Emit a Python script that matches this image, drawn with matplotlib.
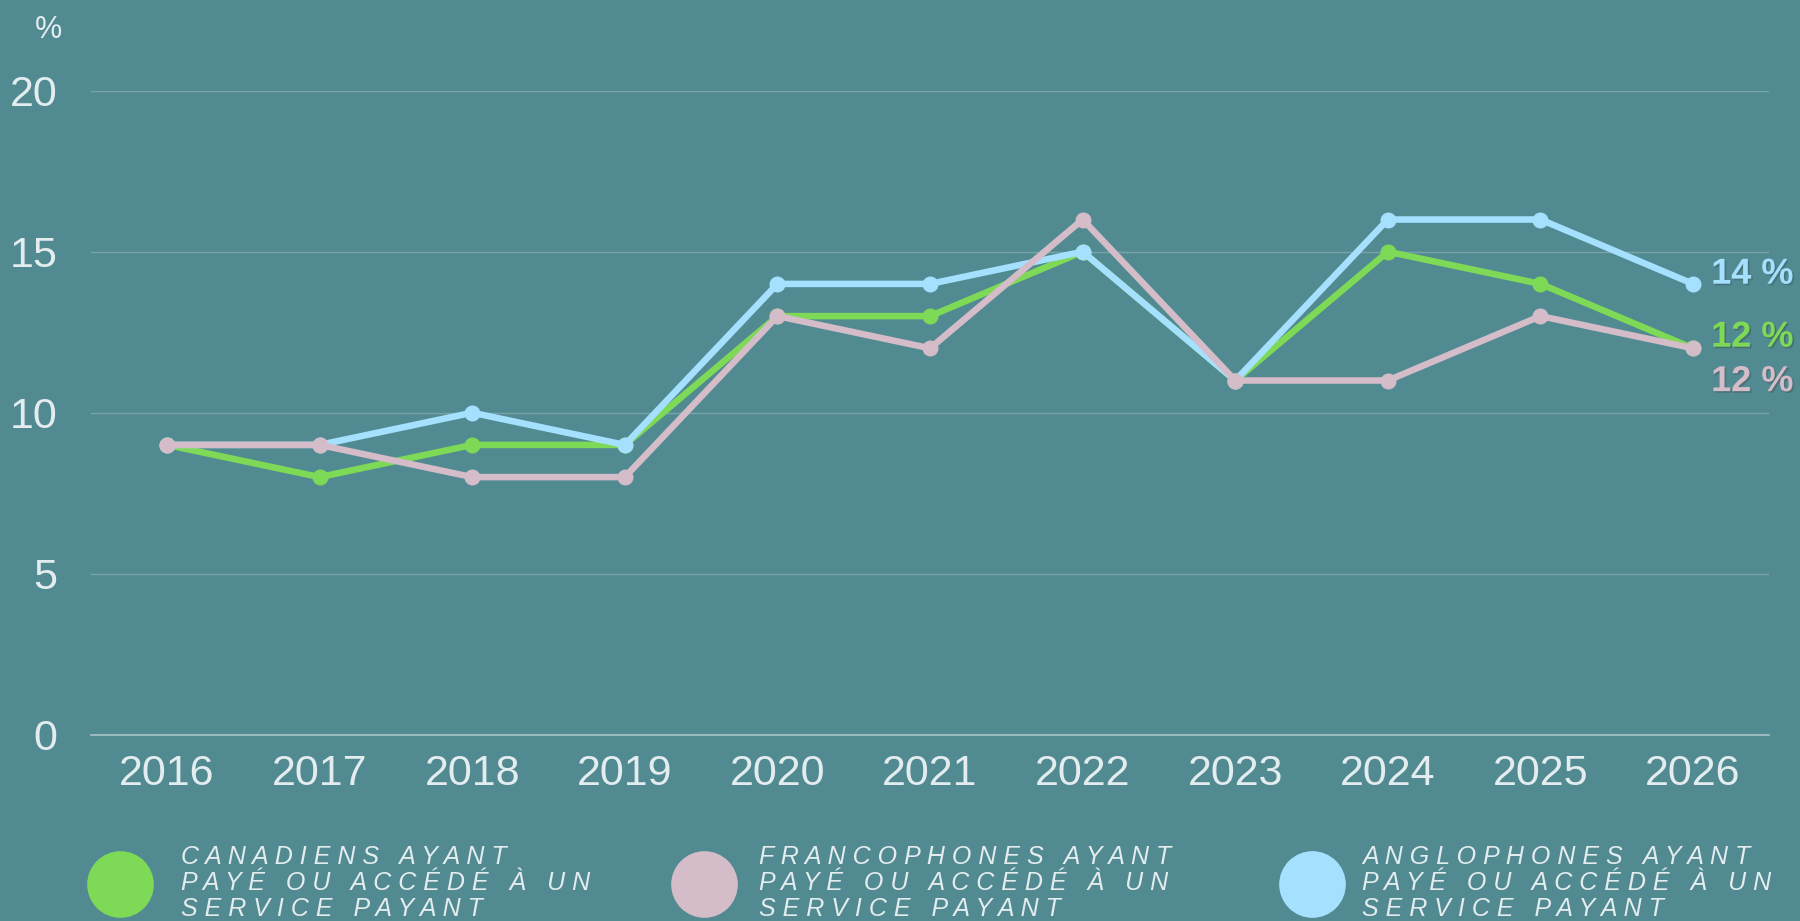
import numpy as np
import matplotlib.pyplot as plt
import matplotlib.patheffects as pe
import matplotlib

matplotlib.rcParams["font.family"] = ["Liberation Sans", "DejaVu Sans"]

# données
annees = [2016, 2017, 2018, 2019, 2020, 2021, 2022, 2023, 2024, 2025, 2026]
canadiens = [9, 8, 9, 9, 13, 13, 15, 11, 15, 14, 12]
francophones = [9, 9, 8, 8, 13, 12, 16, 11, 11, 13, 12]
anglophones = [9, 9, 10, 9, 14, 14, 15, 11, 16, 16, 14]

noms = ["CANADIENS AYANT\nPAYÉ OU ACCÉDÉ À UN\nSERVICE PAYANT",
        "FRANCOPHONES AYANT\nPAYÉ OU ACCÉDÉ À UN\nSERVICE PAYANT",
        "ANGLOPHONES AYANT\nPAYÉ OU ACCÉDÉ À UN\nSERVICE PAYANT"]
couleurs = ["#7ed957", "#d4bcc8", "#a6e0ff"]
y_ticks = [0, 5, 10, 15, 20]

fond = "#528a91"
texte = "#e3ecee"

fig = plt.figure(figsize=(18, 9.21), dpi=100, facecolor=fond)
ax = fig.add_axes([0.0504, 0.2023, 0.9326, 0.6992], facecolor=fond)

series = [canadiens, francophones, anglophones]
# ordre de dessin : vert, bleu, rose (rose au-dessus)
zorders = [3, 5, 4]
for vals, c, z in zip(series, couleurs, zorders):
    ax.plot(annees, vals, color=c, linewidth=4.7, marker="o", markersize=10.5,
            solid_joinstyle="round", zorder=z)

# étiquettes de fin
decalages = [8, -24, 7]
for vals, c, dy in zip(series, couleurs, decalages):
    ax.annotate(f"{vals[-1]} %", xy=(annees[-1], vals[-1]), xytext=(13, dy),
                textcoords="offset points", ha="left", va="center",
                fontsize=26, fontweight="bold", color=c, annotation_clip=False,
                path_effects=[pe.SimplePatchShadow(offset=(1.2, -1.2), alpha=0.3),
                              pe.Normal()], zorder=10)

ax.set_xlim(2015.5, 2026.5)
ax.set_ylim(0, 20)
ax.set_xticks(annees)
ax.set_xticklabels([str(a) for a in annees])
ax.set_yticks(y_ticks)
ax.tick_params(axis="both", length=0, labelsize=31, labelcolor=texte)
ax.tick_params(axis="y", pad=24)
ax.tick_params(axis="x", pad=14)

for s in ["top", "right", "left"]:
    ax.spines[s].set_visible(False)
ax.spines["bottom"].set_color("#a9c5c8")
ax.spines["bottom"].set_linewidth(1.2)
ax.grid(True, axis="y", color="#78a4a9", linewidth=1)
ax.set_axisbelow(True)

fig.text(48 / 1800, 1 - 30 / 921, "%", fontsize=22, color=texte, ha="center", va="center")

# légende
pos_cercle = [120, 704, 1312]
pos_texte = [181, 759, 1362]
for nom, c, xc, xt in zip(noms, couleurs, pos_cercle, pos_texte):
    ax.scatter([xc / 1800], [1 - 884 / 921], s=48 ** 2, color=c, transform=fig.transFigure,
               clip_on=False, zorder=10, linewidths=0)
    espace = "\n".join(" ".join(ligne) for ligne in nom.split("\n"))
    fig.text(xt / 1800, 1 - 883 / 921, espace, fontsize=18, style="italic",
             color=texte, ha="left", va="center", linespacing=1.1)

fig.savefig("out.png", dpi=100, facecolor=fond)
